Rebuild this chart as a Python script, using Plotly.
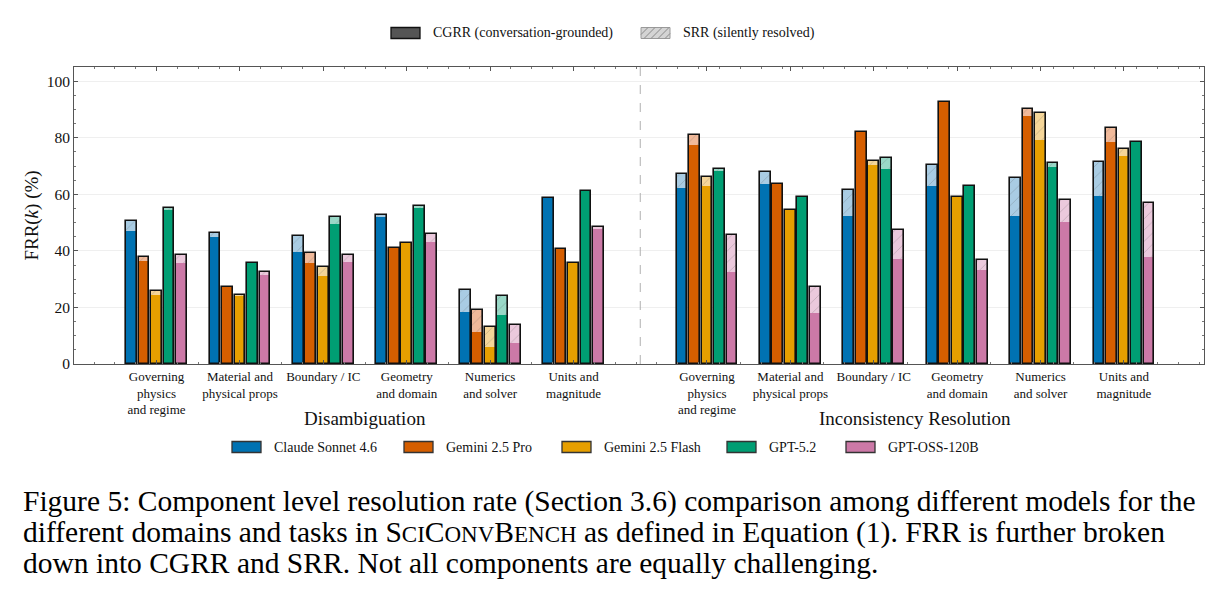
import plotly.graph_objects as go

# ---------------- data ----------------
categories = ["Governing<br>physics<br>and regime", "Material and<br>physical props", "Boundary / IC",
              "Geometry<br>and domain", "Numerics<br>and solver", "Units and<br>magnitude"]
tasks = ["Disambiguation", "Inconsistency Resolution"]
models = ["Claude Sonnet 4.6", "Gemini 2.5 Pro", "Gemini 2.5 Flash", "GPT-5.2", "GPT-OSS-120B"]
parts = ["CGRR (conversation-grounded)", "SRR (silently resolved)"]

# Disambiguation: FRR (total) and CGRR (conversation-grounded part)
claude_dis_frr = [50.4, 46.2, 45.2, 52.8, 26.0, 58.8]
claude_dis_cgrr = [47.0, 45.0, 39.5, 52.1, 18.5, 58.8]
gpro_dis_frr = [37.8, 27.3, 39.2, 41.1, 19.2, 40.6]
gpro_dis_cgrr = [36.3, 27.3, 35.7, 41.1, 11.4, 40.6]
gflash_dis_frr = [25.7, 24.4, 34.4, 42.9, 13.2, 35.8]
gflash_dis_cgrr = [24.5, 24.1, 31.1, 42.9, 6.1, 35.8]
gpt52_dis_frr = [55.2, 35.6, 52.0, 55.8, 24.2, 61.2]
gpt52_dis_cgrr = [54.4, 35.6, 49.6, 55.0, 17.2, 61.2]
oss_dis_frr = [38.5, 32.5, 38.5, 45.9, 13.9, 48.6]
oss_dis_cgrr = [35.6, 31.3, 36.0, 43.2, 7.4, 47.8]

# Inconsistency Resolution
claude_inc_frr = [67.0, 68.0, 61.5, 70.3, 65.8, 71.4]
claude_inc_cgrr = [62.2, 63.6, 52.4, 62.9, 52.2, 59.4]
gpro_inc_frr = [80.8, 63.6, 82.1, 92.6, 90.3, 83.3]
gpro_inc_cgrr = [77.4, 63.6, 82.1, 92.6, 87.7, 78.4]
gflash_inc_frr = [66.1, 54.4, 71.7, 59.2, 88.9, 76.1]
gflash_inc_cgrr = [63.0, 54.4, 70.5, 59.2, 79.3, 73.6]
gpt52_inc_frr = [69.0, 59.1, 73.0, 62.9, 70.9, 78.6]
gpt52_inc_cgrr = [68.4, 59.1, 69.1, 62.9, 69.7, 78.6]
oss_inc_frr = [45.7, 27.2, 47.3, 36.9, 57.9, 57.0]
oss_inc_cgrr = [32.5, 18.1, 37.0, 33.4, 50.2, 37.8]

frr = [
    [claude_dis_frr, gpro_dis_frr, gflash_dis_frr, gpt52_dis_frr, oss_dis_frr],
    [claude_inc_frr, gpro_inc_frr, gflash_inc_frr, gpt52_inc_frr, oss_inc_frr],
]
cgrr = [
    [claude_dis_cgrr, gpro_dis_cgrr, gflash_dis_cgrr, gpt52_dis_cgrr, oss_dis_cgrr],
    [claude_inc_cgrr, gpro_inc_cgrr, gflash_inc_cgrr, gpt52_inc_cgrr, oss_inc_cgrr],
]

# ---------------- style ----------------
colors = ["#0072B2", "#D55E00", "#E69F00", "#009E73", "#CC79A7"]
light = ["#A9CCE3", "#F0B99A", "#F5D699", "#99D8C7", "#EBC9DC"]
FONT = "Liberation Serif"
TASK_GAP = 1.6
BAR_STEP = 0.15
BAR_W = 0.13

W, H = 1224, 596
ML, MR, MT, MB = 74, 20, 67, 232
PW, PH = W - ML - MR, H - MT - MB


def px(x):
    return (x - ML) / PW


def py(y):
    return (H - MB - y) / PH


ncat = len(categories)
group_pos = []
for t in range(len(tasks)):
    for c in range(ncat):
        group_pos.append(t * (ncat - 1 + TASK_GAP) + c)

fig = go.Figure()

for m, model in enumerate(models):
    xs, base_y, top_y, tot_y = [], [], [], []
    for t in range(len(tasks)):
        for c in range(ncat):
            xs.append(group_pos[t * ncat + c] + (m - 2) * BAR_STEP)
            base_y.append(cgrr[t][m][c])
            top_y.append(frr[t][m][c] - cgrr[t][m][c])
            tot_y.append(frr[t][m][c])
    fig.add_trace(go.Bar(x=xs, y=base_y, width=BAR_W, name=model + " CGRR",
                         marker=dict(color=colors[m], line=dict(width=0)),
                         showlegend=False, hoverinfo="skip"))
    fig.add_trace(go.Bar(x=xs, y=top_y, base=base_y, width=BAR_W, name=model + " SRR",
                         marker=dict(color=light[m], line=dict(width=0),
                                     pattern=dict(shape="/", fgcolor="rgba(70,70,70,0.5)",
                                                  size=8, solidity=0.1, fillmode="overlay")),
                         showlegend=False, hoverinfo="skip"))
    fig.add_trace(go.Bar(x=xs, y=tot_y, width=BAR_W, name=model,
                         marker=dict(color="rgba(0,0,0,0)", line=dict(color="#111111", width=1.6)),
                         showlegend=False, hoverinfo="skip"))

sep_x = (group_pos[ncat - 1] + group_pos[ncat]) / 2
shapes = [dict(type="line", xref="x", yref="paper", x0=sep_x, x1=sep_x, y0=0, y1=1,
               line=dict(color="#b0b0b0", width=1, dash="dash"))]

annotations = []
for t, task in enumerate(tasks):
    center = (group_pos[t * ncat] + group_pos[t * ncat + ncat - 1]) / 2
    annotations.append(dict(x=center, y=py(418), xref="x", yref="paper", text=task, showarrow=False,
                            font=dict(family=FONT, size=19, color="#111"), xanchor="center", yanchor="middle"))

# ---- legends (drawn as swatch + text) ----
SW_W, SW_H = 29, 11
leg_font = dict(family=FONT, size=14, color="#111")
model_sw_x = [232, 404, 562, 727, 846]
for m, model in enumerate(models):
    x0 = model_sw_x[m]
    shapes.append(dict(type="rect", xref="paper", yref="paper", x0=px(x0), x1=px(x0 + SW_W),
                       y0=py(447 + SW_H / 2), y1=py(447 - SW_H / 2),
                       fillcolor=colors[m], line=dict(color="#333333", width=1.3)))
    annotations.append(dict(x=px(x0 + 40), y=py(447), xref="paper", yref="paper", text=model,
                            showarrow=False, xanchor="left", yanchor="middle", font=leg_font))
part_sw_x = [391, 641]
for k, part in enumerate(parts):
    x0 = part_sw_x[k]
    if k == 0:
        shapes.append(dict(type="rect", xref="paper", yref="paper", x0=px(x0), x1=px(x0 + SW_W),
                           y0=py(33 + SW_H / 2), y1=py(33 - SW_H / 2),
                           fillcolor="#555555", line=dict(color="#111111", width=1.3)))
    else:
        shapes.append(dict(type="rect", xref="paper", yref="paper", x0=px(x0), x1=px(x0 + SW_W),
                           y0=py(33 + SW_H / 2), y1=py(33 - SW_H / 2),
                           fillcolor="#d4d4d4", line=dict(color="#9a9a9a", width=1)))
        segs = []
        for s in range(-SW_H, SW_W, 7):
            xa, ya = x0 + s, 33 + SW_H / 2
            xb, yb = x0 + s + SW_H, 33 - SW_H / 2
            if xa < x0:
                ya -= (x0 - xa)
                xa = x0
            if xb > x0 + SW_W:
                yb += (xb - x0 - SW_W)
                xb = x0 + SW_W
            if xb > xa:
                segs.append(f"M{px(xa)},{py(ya)} L{px(xb)},{py(yb)}")
        shapes.append(dict(type="path", xref="paper", yref="paper", path=" ".join(segs),
                           line=dict(color="#8a8a8a", width=1)))
    annotations.append(dict(x=px(x0 + 40), y=py(33), xref="paper", yref="paper", text=part,
                            showarrow=False, xanchor="left", yanchor="middle", font=leg_font))

# ---- caption ----
sc = "font-size:23px"
caption = [
    "Figure 5: Component level resolution rate (Section 3.6) comparison among different models for the",
    f"different domains and tasks in S<span style='{sc}'>CI</span>C<span style='{sc}'>ONV</span>B<span style='{sc}'>ENCH</span> as defined in Equation (1). FRR is further broken",
    "down into CGRR and SRR. Not all components are equally challenging.",
]
cap_y = [501, 532, 563]
for line, yy in zip(caption, cap_y):
    annotations.append(dict(x=px(21), y=py(yy), xref="paper", yref="paper", text=line,
                            showarrow=False, xanchor="left", yanchor="middle",
                            font=dict(family=FONT, size=29.5, color="#000")))

fig.update_layout(
    width=W, height=H,
    margin=dict(l=ML, r=MR, t=MT, b=MB),
    barmode="overlay",
    bargap=0,
    showlegend=False,
    plot_bgcolor="white", paper_bgcolor="white",
    font=dict(family=FONT, size=13, color="#111"),
    annotations=annotations,
    shapes=shapes,
)

fig.update_xaxes(
    range=[-0.99, 12.56], tickmode="array", tickvals=group_pos, ticktext=categories * len(tasks),
    showgrid=False, zeroline=False, showline=True, linecolor="#555", linewidth=1, mirror="ticks",
    ticks="inside", ticklen=4, tickcolor="#555", tickfont=dict(family=FONT, size=13, color="#111"),
    minor=dict(ticks="inside", ticklen=2, tickcolor="#777", dtick=0.25, tick0=0, showgrid=False),
)
fig.update_yaxes(
    range=[0, 105], tickvals=[0, 20, 40, 60, 80, 100],
    showgrid=True, gridcolor="#efefef", gridwidth=1, zeroline=False,
    showline=True, linecolor="#555", linewidth=1, mirror="ticks",
    ticks="inside", ticklen=4, tickcolor="#555", tickfont=dict(family=FONT, size=15.5, color="#111"),
    minor=dict(ticks="inside", ticklen=2, tickcolor="#777", dtick=5, showgrid=False),
    title=dict(text="FRR(<i>k</i>) (%)", font=dict(family=FONT, size=19, color="#111"), standoff=3),
)

fig.write_html("out.html")
